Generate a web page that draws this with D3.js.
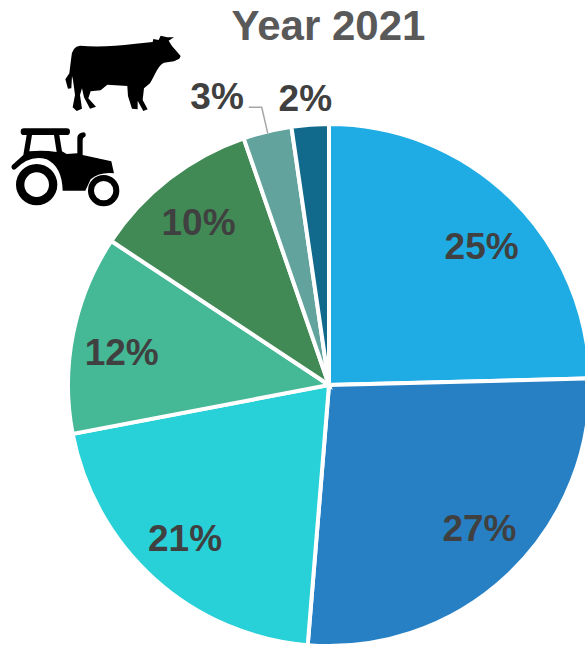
<!DOCTYPE html>
<html>
<head>
<meta charset="utf-8">
<script src="https://cdn.jsdelivr.net/npm/d3@7/dist/d3.min.js"></script>
<style>
  html, body { margin: 0; padding: 0; background: #fff; overflow: hidden; }
  svg { display: block; font-family: "Liberation Sans", Arial, sans-serif; }
</style>
</head>
<body>
<svg id="chart" width="585" height="645"></svg>
<script>
// Share of the total per segment, clockwise from twelve o'clock
const segments = ["A", "B", "C", "D", "E", "F", "G"];
const shares = [24.6, 26.7, 20.7, 12.3, 10.4, 3.0, 2.3];
const colors = ["#1FABE3", "#2780C4", "#28D0D8", "#45B896", "#418A56", "#62A39D", "#116A8C"];
// Label shifts away from each segment's centroid
const labelNudges = [[20, -3], [20, 5], [-17, 11], [-21, 4], [-14, -13], [-67, -105], [-10, -98]];

const titleText = "Year 2021";
const cx = 329, cy = 385, radius = 261, labelRadius = 190;

const svg = d3.select("#chart");

const pie = d3.pie().value(i => shares[i]).sort(null);
const arc = d3.arc().innerRadius(0).outerRadius(radius);
const labelArc = d3.arc().innerRadius(labelRadius).outerRadius(labelRadius);
const rimArc = d3.arc().innerRadius(radius - 2).outerRadius(radius - 2);
const pct = d3.format(".0f");

const arcs = pie(d3.range(segments.length));
const plot = svg.append("g").attr("transform", `translate(${cx},${cy})`);

plot.selectAll("path.slice")
  .data(arcs)
  .join("path")
  .attr("class", "slice")
  .attr("d", arc)
  .attr("fill", d => colors[d.data])
  .attr("stroke", "#fff")
  .attr("stroke-width", 4)
  .attr("stroke-linejoin", "miter");

// Leader line from the small grey segment up to its label
const rim = rimArc.centroid(arcs[5]);
plot.append("path")
  .attr("d", d3.line()([[rim[0], rim[1]], [rim[0] - 6, rim[1] - 26], [rim[0] - 19, rim[1] - 26]]))
  .attr("fill", "none")
  .attr("stroke", "#A6A6A6")
  .attr("stroke-width", 1.5);

plot.selectAll("text.value")
  .data(arcs)
  .join("text")
  .attr("class", "value")
  .attr("transform", d => {
    const [x, y] = labelArc.centroid(d);
    const [nx, ny] = labelNudges[d.data];
    return `translate(${x + nx},${y + ny})`;
  })
  .attr("text-anchor", "middle")
  .attr("dy", "0.358em")
  .attr("font-size", 37)
  .attr("font-weight", 700)
  .attr("fill", "#404040")
  .text(d => pct(shares[d.data]) + "%");

svg.append("text")
  .attr("x", 328.5)
  .attr("y", 25)
  .attr("dy", "0.358em")
  .attr("text-anchor", "middle")
  .attr("font-size", 42)
  .attr("font-weight", 700)
  .attr("fill", "#595959")
  .text(titleText);

// Pictograms, outlined on a 3x grid
const icons = svg.append("g").attr("transform", "translate(0,20) scale(0.3333)");

icons.append("path")
  .attr("fill", "#000")
  .attr("d", "M214,112 Q216,80 240,77 C290,82 350,78 400,72 L458,66 L460,57 L476,60 L482,47 L502,52 L522,52 L506,62 L516,78 L542,108 L538,116 L522,124 L492,128 C475,135 465,165 450,190 L432,205 L428,240 L443,268 L430,273 L413,242 L413,268 L396,266 L384,228 L382,198 L322,194 L302,211 L272,214 L265,235 L288,260 L270,266 L252,232 L246,205 L240,225 L246,266 L230,273 L218,262 L225,225 L219,180 L216,168 L214,205 L204,206 L196,178 L208,160 Z");

icons.append("path")
  .attr("fill", "#000")
  .attr("fill-rule", "evenodd")
  .attr("d", "M72,325 H200 A10,10 0 0 1 200,345 H178 L186,394 L200,402 L232,400 V352 Q234,338 252,337 A8,8 0 0 1 254,351 Q248,352 248,360 V405 L334,424 L342,460 Q300,455 272,478 L256,512 H188 Q186,440 140,418 Q90,402 46,448 A8,8 0 0 1 36,436 L70,405 L80,345 H72 A10,10 0 0 1 72,325 Z M96,345 L88,394 Q130,390 170,396 L162,345 Z");

icons.append("path")
  .attr("fill", "#000")
  .attr("fill-rule", "evenodd")
  .attr("d", d3.arc()({ innerRadius: 37, outerRadius: 62, startAngle: 0, endAngle: 2 * Math.PI }))
  .attr("transform", "translate(110,494)");

icons.append("path")
  .attr("fill", "#000")
  .attr("fill-rule", "evenodd")
  .attr("d", d3.arc()({ innerRadius: 29, outerRadius: 47, startAngle: 0, endAngle: 2 * Math.PI }))
  .attr("transform", "translate(311,512)");
</script>
</body>
</html>
